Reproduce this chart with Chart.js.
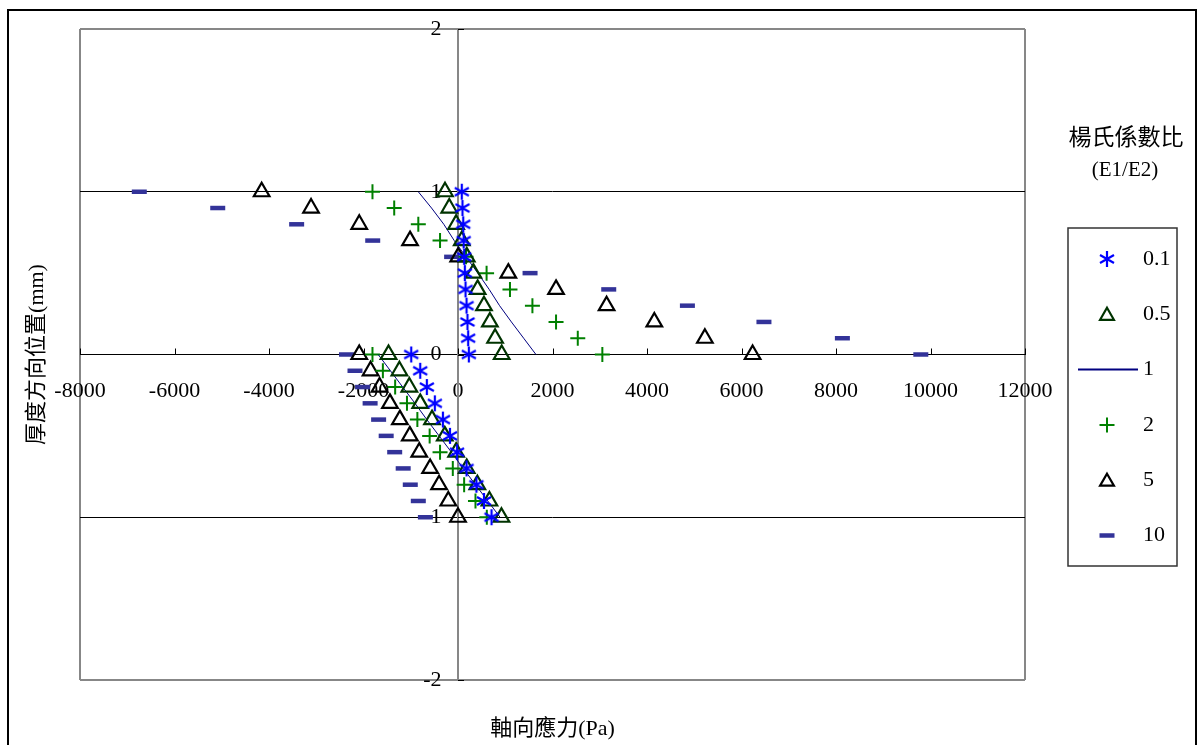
<!DOCTYPE html>
<html>
<head>
<meta charset="utf-8">
<script src="https://cdn.jsdelivr.net/npm/chart.js@4/dist/chart.umd.min.js"></script>
<style>
  html, body { margin: 0; padding: 0; background: #fff; }
  #wrap { width: 1202px; height: 745px; }
</style>
</head>
<body>
<div id="wrap"><canvas id="mychart" width="1202" height="745"></canvas></div>
<script>
// stress across the two layers, top layer first (1 -> 0) then bottom layer (0 -> -1)
const ratioLabels = ['0.1', '0.5', '1', '2', '5', '10'];
const depth = [1, 0.9, 0.8, 0.7, 0.6, 0.5, 0.4, 0.3, 0.2, 0.1, 0,
               0, -0.1, -0.2, -0.3, -0.4, -0.5, -0.6, -0.7, -0.8, -0.9, -1];
const stress01 = [80, 95, 110, 120, 130, 145, 160, 180, 200, 215, 230,
                  -990, -800, -660, -490, -320, -170, -20, 180, 390, 550, 710];
const stress05 = [-275, -185, -40, 80, 185, 325, 415, 550, 675, 785, 925,
                  -1470, -1240, -1030, -800, -550, -280, -40, 185, 410, 665, 920];
const stress1 = [-840, -560, -300, -80, 170, 420, 660, 880, 1130, 1390, 1650,
                 -1690, -1430, -1170, -910, -660, -400, -140, 110, 370, 630, 890];
const stress2 = [-1810, -1350, -840, -380, 170, 605, 1100, 1575, 2075, 2535, 3055,
                 -1810, -1590, -1330, -1080, -860, -600, -380, -110, 130, 370, 610];
const stress5 = [-4155, -3110, -2090, -1015, 5, 1065, 2075, 3145, 4155, 5225, 6235,
                 -2090, -1850, -1660, -1440, -1230, -1020, -820, -590, -400, -205, 0];
const stress10 = [-6745, -5085, -3415, -1805, -135, 1525, 3190, 4855, 6475, 8135, 9795,
                  -2360, -2180, -2020, -1860, -1680, -1520, -1340, -1160, -1010, -840, -690];

const xTicks = { min: -8000, max: 12000, step: 2000 };
const yTicks = { min: -2, max: 2, step: 1 };

const FONT = "'Liberation Serif', 'Noto Sans CJK TC', serif";
const GRAY = '#878787';

function pts(xs) {
  return depth.map((y, i) => ({ x: xs[i], y: y }));
}

// six-armed asterisk used for the 0.1 series
function asteriskMark(color) {
  const c = document.createElement('canvas');
  c.width = 18; c.height = 18;
  const g = c.getContext('2d');
  g.strokeStyle = color;
  g.lineWidth = 2.2;
  g.beginPath();
  g.moveTo(9, 1); g.lineTo(9, 17);
  g.moveTo(2, 5); g.lineTo(16, 13);
  g.moveTo(2, 13); g.lineTo(16, 5);
  g.stroke();
  return c;
}
const star = asteriskMark('#0000ff');

// the line series has a break between the two layers
const lineData = pts(stress1);
lineData.splice(11, 0, { x: null, y: null });

const datasets = [
  { label: ratioLabels[0], data: pts(stress01), pointStyle: star, pointRadius: 9,
    borderColor: '#0000ff', backgroundColor: '#0000ff', showLine: false },
  { label: ratioLabels[1], data: pts(stress05), pointStyle: 'triangle', pointRadius: 9,
    borderColor: '#003300', backgroundColor: 'rgba(0,0,0,0)', pointBorderWidth: 2.2, showLine: false },
  { label: ratioLabels[2], data: lineData, pointRadius: 0, borderColor: '#000080',
    borderWidth: 1, showLine: true, spanGaps: false, tension: 0 },
  { label: ratioLabels[3], data: pts(stress2), pointStyle: 'cross', pointRadius: 7.5,
    borderColor: '#008000', backgroundColor: '#008000', pointBorderWidth: 2, showLine: false },
  { label: ratioLabels[4], data: pts(stress5), pointStyle: 'triangle', pointRadius: 9,
    borderColor: '#000000', backgroundColor: 'rgba(0,0,0,0)', pointBorderWidth: 2.2, showLine: false },
  { label: ratioLabels[5], data: pts(stress10), pointStyle: 'line', pointRadius: 7.5,
    borderColor: '#333399', backgroundColor: '#333399', pointBorderWidth: 4.5, showLine: false },
];

// page frame, tick marks, axis titles and the boxed legend
const decor = {
  id: 'decor',
  beforeDraw(chart) {
    const ctx = chart.ctx;
    ctx.save();
    ctx.fillStyle = '#fff';
    ctx.fillRect(0, 0, chart.width, chart.height);
    ctx.strokeStyle = '#000';
    ctx.lineWidth = 2;
    ctx.strokeRect(8, 10, 1188, 780);
    ctx.restore();
  },
  beforeDatasetsDraw(chart) {
    const ctx = chart.ctx;
    const xs = chart.scales.x, ys = chart.scales.y;
    const x0 = xs.getPixelForValue(0), y0 = ys.getPixelForValue(0);
    ctx.save();
    ctx.strokeStyle = '#000';
    ctx.lineWidth = 1;
    ctx.beginPath();
    xs.ticks.forEach(t => {
      const px = Math.round(xs.getPixelForValue(t.value)) + 0.5;
      ctx.moveTo(px, y0); ctx.lineTo(px, y0 - 6);
    });
    ys.ticks.forEach(t => {
      const py = Math.round(ys.getPixelForValue(t.value)) + 0.5;
      ctx.moveTo(x0, py); ctx.lineTo(x0 + 6, py);
    });
    ctx.stroke();
    ctx.restore();
  },
  afterDraw(chart) {
    const ctx = chart.ctx;
    const a = chart.chartArea;
    ctx.save();
    ctx.fillStyle = '#000';
    ctx.textAlign = 'center';
    ctx.textBaseline = 'middle';
    ctx.font = '22px ' + FONT;
    ctx.fillText('軸向應力(Pa)', (a.left + a.right) / 2, 729);
    ctx.save();
    ctx.translate(37, (a.top + a.bottom) / 2);
    ctx.rotate(-Math.PI / 2);
    ctx.fillText('厚度方向位置(mm)', 0, 0);
    ctx.restore();

    // legend
    ctx.font = '23px ' + FONT;
    ctx.fillText('楊氏係數比', 1126, 139);
    ctx.font = '21px ' + FONT;
    ctx.fillText('(E1/E2)', 1125, 170);
    ctx.strokeStyle = '#333';
    ctx.lineWidth = 1.5;
    ctx.strokeRect(1068, 228, 109, 338);

    chart.data.datasets.forEach((ds, i) => {
      const cy = 259 + i * 55.3;
      const cx = 1107;
      ctx.strokeStyle = ds.borderColor;
      ctx.beginPath();
      if (ds.pointStyle === star) {
        ctx.drawImage(star, cx - 9, cy - 9);
      } else if (ds.pointStyle === 'triangle') {
        const r = 8;
        ctx.lineWidth = 2.2;
        for (let k = 0; k < 3; k++) {
          const ang = k * 2 * Math.PI / 3;
          const px = cx + Math.sin(ang) * r, py = cy - Math.cos(ang) * r + 1.5;
          if (k === 0) ctx.moveTo(px, py); else ctx.lineTo(px, py);
        }
        ctx.closePath();
        ctx.stroke();
      } else if (ds.pointStyle === 'cross') {
        ctx.lineWidth = 2;
        ctx.moveTo(cx - 7.5, cy); ctx.lineTo(cx + 7.5, cy);
        ctx.moveTo(cx, cy - 7.5); ctx.lineTo(cx, cy + 7.5);
        ctx.stroke();
      } else if (ds.pointStyle === 'line') {
        ctx.lineWidth = 4.5;
        ctx.moveTo(cx - 7.5, cy); ctx.lineTo(cx + 7.5, cy);
        ctx.stroke();
      } else {
        ctx.lineWidth = 2;
        ctx.moveTo(1078, cy); ctx.lineTo(1138, cy);
        ctx.stroke();
      }
      ctx.fillStyle = '#000';
      ctx.textAlign = 'left';
      ctx.font = '22px ' + FONT;
      ctx.fillText(ds.label, 1143, cy);
    });
    ctx.restore();
  }
};

new Chart('mychart', {
  type: 'scatter',
  data: { datasets: datasets },
  plugins: [decor],
  options: {
    responsive: false,
    animation: false,
    devicePixelRatio: 1,
    layout: { padding: { left: 80, top: 29, right: 177, bottom: 65 } },
    plugins: { legend: { display: false }, tooltip: { enabled: false } },
    font: { family: FONT },
    scales: {
      x: {
        type: 'linear',
        position: { y: 0 },
        min: xTicks.min, max: xTicks.max,
        ticks: { stepSize: xTicks.step, padding: 24, color: '#000',
                 font: { family: FONT, size: 22 }, maxRotation: 0, autoSkip: false,
                 callback: v => String(v) },
        grid: {
          drawTicks: false,
          color: c => (c.tick && (c.tick.value === xTicks.min || c.tick.value === xTicks.max)) ? GRAY : 'rgba(0,0,0,0)',
          lineWidth: 2
        },
        border: { color: '#000', width: 1 }
      },
      y: {
        type: 'linear',
        position: { x: 0 },
        min: yTicks.min, max: yTicks.max,
        ticks: { stepSize: yTicks.step, color: '#000', font: { family: FONT, size: 22 },
                 callback: v => v + '   ' },
        grid: {
          drawTicks: false,
          color: c => (c.tick && Math.abs(c.tick.value) === yTicks.max) ? GRAY : '#000',
          lineWidth: c => (c.tick && Math.abs(c.tick.value) === yTicks.max) ? 2 : 1
        },
        border: { color: GRAY, width: 2 }
      }
    }
  }
});
</script>
</body>
</html>
